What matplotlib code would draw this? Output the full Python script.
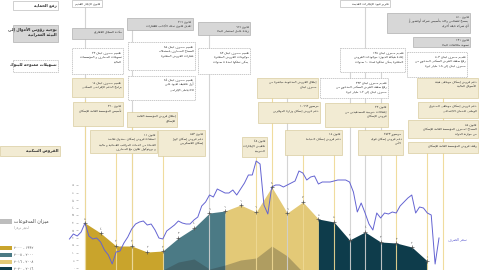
import re
import numpy as np
import matplotlib
matplotlib.use("Agg")
import matplotlib.pyplot as plt
from matplotlib.patches import Rectangle
import matplotlib.transforms as mtrans

plt.rcParams['font.family'] = ['DejaVu Sans']

# ---------------- Arabic shaping (matplotlib has no shaping / bidi) ----------------
_LET = "ءآأؤإئابةتثجحخدذرزسشصضطظعغفقكلمنهوىي"
_NF = [1,2,2,2,2,4,2,4,2,4,4,4,4,4,2,2,2,2,4,4,4,4,4,4,4,4,4,4,4,4,4,4,4,2,2,4]
FORMS = {}
_c = 0xFE80
for _ch, _n in zip(_LET, _NF):
    FORMS[_ch] = [chr(_c + j) for j in range(_n)] + [None] * (4 - _n)
    _c += _n
LAMALEF = {'آ': ('\uFEF5', '\uFEF6'), 'أ': ('\uFEF7', '\uFEF8'),
           'إ': ('\uFEF9', '\uFEFA'), 'ا': ('\uFEFB', '\uFEFC')}


def _dual(ch):
    return ch in FORMS and FORMS[ch][2] is not None


def _shape(s):
    out = []
    i, n = 0, len(s)
    while i < n:
        c = s[i]
        prev = s[i - 1] if i > 0 else ''
        jp = _dual(prev)
        if c == 'ل' and i + 1 < n and s[i + 1] in LAMALEF:
            out.append(LAMALEF[s[i + 1]][1 if jp else 0])
            i += 2
            continue
        if c in FORMS:
            nxt = s[i + 1] if i + 1 < n else ''
            jn = _dual(c) and nxt in FORMS and nxt != 'ء'
            f = FORMS[c]
            if jp and jn:
                out.append(f[3])
            elif jp:
                out.append(f[1])
            elif jn:
                out.append(f[2])
            else:
                out.append(f[0])
        else:
            out.append(c)
        i += 1
    return ''.join(out)


_LTR = re.compile(r'[0-9\u0660-\u0669A-Za-z]+(?:[.,/][0-9\u0660-\u0669]+)*')
_MIR = {'(': ')', ')': '('}


def _visual(line):
    s = _shape(line)
    toks, pos = [], 0
    for m in _LTR.finditer(s):
        toks.extend(_MIR.get(ch, ch) for ch in s[pos:m.start()])
        toks.append(m.group())
        pos = m.end()
    toks.extend(_MIR.get(ch, ch) for ch in s[pos:])
    return ''.join(reversed(toks))


def ar(text):
    return '\n'.join(_visual(l) for l in text.split('\n'))


AD = str.maketrans('0123456789', '٠١٢٣٤٥٦٧٨٩')

# ---------------- data ----------------
years = list(range(1998, 2021))
loan_values = [47, 37, 24, 24, 18, 19, 32, 42, 57, 59, 65, 58, 83, 57, 68,
               51, 48, 30, 38, 28, 27, 23, 9]
bop_values = [-5, -5, -5, -5, -5, 0, 8, 11, 1, 5, 10, 12, 24, 14, -2,
              -5, -5, -5, -5, -5, -5, -5, -5]
period_bounds = [(1998, 2003), (2003, 2007), (2007, 2013), (2013, 2020)]
period_labels = ["١٩٩٢ - ٢٠٠٠", "٢٠٠٠ - ٢٠٠٨", "٢٠٠٨ - ٢٠١٦", "٢٠١٦ - ٢٠٢٠"]
period_colors = ['#c9a42c', '#4b7a85', '#e3c977', '#0e3c4b']

rate_start = 1997.0
rate_step = 0.25
rate_values = [31, 36, 34, 38, 47, 34, 31, 32, 28, 20, 15, 6, 18, 19, 27, 33,
               41, 46, 48, 49, 45, 46, 40, 32, 31, 39, 42, 45, 49, 47, 46, 46,
               50, 53, 64, 68, 75, 73, 81, 79, 77, 77, 80, 75, 81, 87, 95, 95,
               109, 106, 65, 56, 83, 85, 85, 83, 85, 87, 89, 99, 97, 90, 93, 94,
               86, 88, 88, 88, 89, 90, 90, 90, 88, 78, 58, 67, 57, 46, 40, 57,
               52, 57, 56, 58, 57, 64, 68, 72, 75, 57, 63, 62, 57, 55, 6, 32]
rate_label = "سعر الصرف"

tick_labels = ['0', '5', '10', '15', '20', '25', '30', '35', '40', '45', '50', '55']

event_years = [1998, 1998, 2000, 2001, 2001, 2003, 2006, 2009, 2010, 2011,
               2012, 2014, 2015, 2016, 2017, 2018, 2020, 2021]
event_tops = [7, 100, 153, 24, 112, 150, 30, 150, 95, 95,
              150, 150, 70, 7, 72, 150, 150, 98]
event_kinds = ['g', 'y', 'y', 'g', 'y', 'y', 'g', 'y', 'y', 'g',
               'y', 'y', 'g', 'g', 'g', 'y', 'y', 'y']

row_labels = [
    (13, 1, 58, 10, 'white', "رفع الحماية"),
    (13, 25, 58, 42, 'grey', "توجيه رؤوس الأموال إلى\nالبيئة العمرانية"),
    (13, 60, 58, 72, 'dashed', "تسهيلات ممنوحة للبنوك"),
    (0, 146, 60, 156, 'beige', "القروض السكنية"),
]

boxes = [
    (72, 0, 102, 7, 'white', "قانون الإيجار القديم"),
    (72, 28, 123, 39, 'grey', "مكننة السجل العقاري"),
    (72, 48, 123, 74, 'dashed', "تعميم مصرف لبنان ٢٣\nتسهيلات المصارف و المؤسسات\nالمالية"),
    (72, 78, 123, 97, 'beige', "تعميم مصرف لبنان ٩٥\nبرامج الدعم الإقراضي السكني"),
    (73, 102, 123, 126, 'beige', "قانون ٣٦٠\nتأسيس المؤسسة العامة للإسكان"),
    (90, 130, 157, 153, 'beige', "قانون ١١\nاستفادة قروض إسكان صندوق تعاضد\nالقضاة من خدمات المراقب القضائية و مالية\nو بروتوكول تعاون مع المصارف"),
    (127, 18, 193, 30, 'grey', "قانون ٢٩٦\nتعديل قانون تملك الأجانب للعقارات"),
    (128, 42, 195, 70, 'dashed', "تعميم مصرف لبنان ٨٥\nالسماح للمصارف باستملاك\nعقارات القروض المتعثرة"),
    (128, 76, 195, 100, 'dashed', "تعميم مصرف لبنان ٨٤\nأول تخفيف لقيود على\nالاحتياطي الإلزامي"),
    (127, 112, 177, 127, 'beige', "إطلاق قروض المؤسسة العامة\nللإسكان"),
    (158, 130, 205, 156, 'beige', "قانون ٥٥٣\nدعم قروض إسكان جهاز\nإسكان العسكريين"),
    (198, 22, 250, 35, 'grey', "قانون ٦٦٦\nزيادة عامل استثمار البناء"),
    (198, 48, 250, 74, 'dashed', "تعميم مصرف لبنان ٨٣\nموجودات القروض المتعثرة\nيمكن تملكها لمدة ٥ سنوات"),
    (257, 78, 318, 98, 'beige', "إطلاق القروض المدعومة مباشرة من\nمصرف لبنان"),
    (258, 102, 320, 123, 'beige', "مرسوم ١٠٦٦٣\nدعم قروض إسكان وزارة المهجرين"),
    (242, 137, 267, 157, 'beige', "قانون ٤٨\nتخفيض الإيجارات\nالضريبية"),
    (285, 130, 342, 155, 'beige', "قانون ١٥\nدعم قروض إسكان الضباط"),
    (340, 0, 390, 7, 'white', "تحرير قيود الإيجارات القديمة"),
    (387, 13, 470, 33, 'grey', "قانون ٥٩٠\nيسمح للشخص واحد بتأسيس شركة أوفشور أو\nأي شركة تابعة أخرى"),
    (413, 37, 470, 47, 'grey', "قانون ١٣٩\nتسوية مخالفات البناء"),
    (340, 48, 405, 72, 'dashed', "تعميم مصرف لبنان ١٣٥\nإعادة هيكلة الديون: موجودات القروض\nالمتعثرة يمكن تملكها لمدة ١٠ سنوات"),
    (407, 52, 467, 77, 'dashed', "تعميم مصرف لبنان ٥٠٣\nرفع سقف القرض السكني المدعوم من\nمصرف لبنان إلى ١.٨ مليار ليرة"),
    (320, 78, 388, 98, 'dashed', "تعميم مصرف لبنان ٣٣٣\nرفع سقف القرض السكني المدعوم من\nمصرف لبنان إلى ١.٢ مليار ليرة"),
    (417, 78, 478, 98, 'beige', "دعم قروض إسكان موظفي هيئة\nالأسواق المالية"),
    (418, 102, 478, 118, 'beige', "دعم قروض إسكان موظفي الصندوق\nالوطني للضمان الاجتماعي"),
    (408, 120, 478, 138, 'beige', "قانون ٥٥\nالسماح لمصرف المؤسسة العامة للإسكان\nمن موازنة الدولة"),
    (408, 142, 478, 153, 'beige', "وقف قروض المؤسسة العامة للإسكان"),
    (325, 103, 388, 127, 'beige', "قانون ٢٣\nإعفاءات ضريبية للمستفيدين من\nقروض الإسكان"),
    (358, 130, 403, 155, 'beige', "مرسوم ٢٥٢٣\nدعم قروض إسكان قوى\nالأمن"),
]

STYLES = {
    'white': ('white', '#bdbdbd', '-'),
    'grey': ('#d7d7d7', '#b0b0b0', '-'),
    'dashed': ('white', '#b5b5b5', (0, (2, 1))),
    'beige': ('#f2ebd3', '#d9cc9f', '-'),
}

# ---------------- figure ----------------
fig = plt.figure(figsize=(4.8, 2.7), dpi=100)
fig.patch.set_facecolor('white')

ax = fig.add_axes([0, 0, 1, 120 / 270])
ax.set_zorder(1)
ax.patch.set_alpha(0)
ax.set_xlim(1992.537, 2023.385)
ax.set_ylim(0, 120)

ax0 = fig.add_axes([0, 0, 1, 1])
ax0.set_zorder(2)
ax0.set_xlim(0, 480)
ax0.set_ylim(270, 0)
ax0.axis('off')

blend = mtrans.blended_transform_factory(ax.transData, ax0.transData)

# areas
yrs = np.array(years)
lv = np.array(loan_values, dtype=float)
for (a, b), col in zip(period_bounds, period_colors):
    m = (yrs >= a) & (yrs <= b)
    ax.fill_between(yrs[m], 0, lv[m], color=col, lw=0, zorder=1)
bv = np.array(bop_values, dtype=float)
ax.fill_between(yrs, 0, bv, where=bv > 0, interpolate=True, color='#2b2b2b', alpha=0.28, lw=0, zorder=2)

# event lines
for yr, top, k in zip(event_years, event_tops, event_kinds):
    col = '#efd994' if k == 'y' else '#d0d0d0'
    ax.plot([yr, yr], [top, 270], transform=blend, color=col, lw=0.8,
            alpha=0.9, clip_on=False, zorder=3)

# rate line
rx = rate_start + rate_step * np.arange(len(rate_values))
line_col = '#6464d2'
ax.plot(rx, rate_values, color=line_col, lw=0.7, zorder=4, clip_on=False)
ax.text(rx[-1] + 0.55, 31, ar(rate_label), color=line_col, fontsize=2.6,
        va='center', ha='left', zorder=5)

# vertex markers
ax.plot(yrs, lv, ls='none', marker='+', ms=3, mew=0.5, color='#555555', zorder=5)
for x, v in zip(yrs, lv):
    ax.text(x, v + 2.5, str(int(round(v / 10))).translate(AD), fontsize=2.2,
            color='#555555', ha='center', va='bottom', zorder=5)

# y ticks
for s in ax.spines.values():
    s.set_visible(False)
ax.spines['left'].set_position(('data', 1997.55))
tick_vals = np.arange(2.5, 86, 7.5)
ax.set_yticks(tick_vals)
ax.set_yticklabels([t.translate(AD) for t in tick_labels], fontsize=2.2, color='#888888')
ax.tick_params(axis='y', length=1.5, width=0.4, color='#999999', pad=0.8)
ax.set_xticks([])


def draw_box(x0, y0, x1, y1, style, text, size=2.25, bold=False):
    fc, ec, ls = STYLES[style]
    ax0.add_patch(Rectangle((x0, y0), x1 - x0, y1 - y0, facecolor=fc, edgecolor=ec,
                            lw=0.5, ls=ls, zorder=2))
    nl = text.count('\n') + 1
    h = y1 - y0
    if h < 5 * nl + 5:
        ty, va = (y0 + y1) / 2, 'center'
    else:
        ty, va = y0 + 1.8, 'top'
    ax0.text(x1 - 1.5, ty, ar(text), fontsize=size, ha='right', va=va,
             multialignment='right', color='#2e2e2e', linespacing=1.25,
             fontweight='bold' if bold else 'normal', zorder=3)


for b in row_labels:
    draw_box(*b, size=2.9, bold=True)
for b in boxes:
    draw_box(*b)

# legend
ax0.add_patch(Rectangle((0, 218.5), 12, 5.5, facecolor='#bdbdbd', lw=0, zorder=2))
ax0.text(14, 221, ar("ميزان المدفوعات"), fontsize=3.4, ha='left', va='center', color='#444444')
ax0.text(14, 227, ar("(مليار دولار)"), fontsize=2.2, ha='left', va='center', color='#888888')
for i, (lab, col) in enumerate(zip(period_labels, period_colors)):
    y = 245.5 + 7 * i
    ax0.add_patch(Rectangle((0, y), 12, 4.5, facecolor=col, lw=0, zorder=2))
    ax0.text(14, y + 2.3, ar(lab), fontsize=2.6, ha='left', va='center', color='#555555')

fig.savefig('out.png', dpi=100, facecolor='white')
